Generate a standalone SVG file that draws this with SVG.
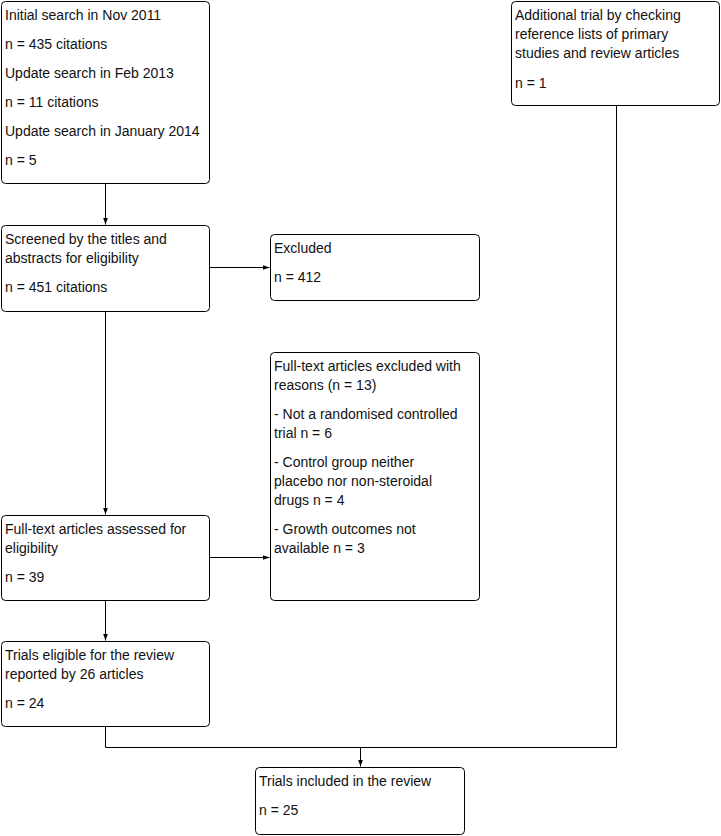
<svg xmlns="http://www.w3.org/2000/svg" width="721" height="836" viewBox="0 0 721 836">
<style>
.box{fill:#fff;stroke:#000;stroke-width:1}
.t{font-family:"Liberation Sans",Arial,sans-serif;font-size:14px;fill:#111}
.c{fill:none;stroke:#000;stroke-width:1}
</style>
<defs>
<marker id="ah" markerWidth="8" markerHeight="6" refX="7" refY="3" orient="auto" markerUnits="userSpaceOnUse">
<path d="M0,0.5 L7,3 L0,5.5 Z" fill="#000"/>
</marker>
</defs>
<rect width="721" height="836" fill="#fff"/>
<g id="connectors">
<path class="c" d="M105.5,183.5 V224.5" marker-end="url(#ah)"/>
<path class="c" d="M209.5,267.5 H269.5" marker-end="url(#ah)"/>
<path class="c" d="M105.5,311.5 V514.5" marker-end="url(#ah)"/>
<path class="c" d="M209.5,557.5 H269.5" marker-end="url(#ah)"/>
<path class="c" d="M105.5,600.5 V640.5" marker-end="url(#ah)"/>
<path class="c" d="M105.5,726.5 V747.5 H616.5 V105.5"/>
<path class="c" d="M360.5,747.5 V766.5" marker-end="url(#ah)"/>
</g>
<g id="n1">
<rect class="box" x="1.5" y="1.5" width="208" height="182" rx="4"/>
<text class="t" x="5" y="20">Initial search in Nov 2011</text>
<text class="t" x="5" y="49">n = 435 citations</text>
<text class="t" x="5" y="78">Update search in Feb 2013</text>
<text class="t" x="5" y="107">n = 11 citations</text>
<text class="t" x="5" y="136">Update search in January 2014</text>
<text class="t" x="5" y="165">n = 5</text>
</g>
<g id="n2">
<rect class="box" x="511.5" y="1.5" width="208" height="104" rx="4"/>
<text class="t" x="515" y="20">Additional trial by checking</text>
<text class="t" x="515" y="39">reference lists of primary</text>
<text class="t" x="515" y="58">studies and review articles</text>
<text class="t" x="515" y="88">n = 1</text>
</g>
<g id="n3">
<rect class="box" x="1.5" y="225.5" width="208" height="86" rx="4"/>
<text class="t" x="5" y="244">Screened by the titles and</text>
<text class="t" x="5" y="263">abstracts for eligibility</text>
<text class="t" x="5" y="292">n = 451 citations</text>
</g>
<g id="n4">
<rect class="box" x="270.5" y="234.5" width="209" height="66" rx="4"/>
<text class="t" x="274" y="253">Excluded</text>
<text class="t" x="274" y="282">n = 412</text>
</g>
<g id="n5">
<rect class="box" x="270.5" y="352.5" width="209" height="248" rx="4"/>
<text class="t" x="274" y="371">Full-text articles excluded with</text>
<text class="t" x="274" y="390">reasons (n = 13)</text>
<text class="t" x="274" y="419">- Not a randomised controlled</text>
<text class="t" x="274" y="438">trial n = 6</text>
<text class="t" x="274" y="467">- Control group neither</text>
<text class="t" x="274" y="486">placebo nor non-steroidal</text>
<text class="t" x="274" y="505">drugs n = 4</text>
<text class="t" x="274" y="534">- Growth outcomes not</text>
<text class="t" x="274" y="553">available n = 3</text>
</g>
<g id="n6">
<rect class="box" x="1.5" y="515.5" width="208" height="85" rx="4"/>
<text class="t" x="5" y="534">Full-text articles assessed for</text>
<text class="t" x="5" y="553">eligibility</text>
<text class="t" x="5" y="582">n = 39</text>
</g>
<g id="n7">
<rect class="box" x="1.5" y="641.5" width="208" height="85" rx="4"/>
<text class="t" x="5" y="660">Trials eligible for the review</text>
<text class="t" x="5" y="679">reported by 26 articles</text>
<text class="t" x="5" y="708">n = 24</text>
</g>
<g id="n8">
<rect class="box" x="255.5" y="767.5" width="209" height="67" rx="4"/>
<text class="t" x="259" y="786">Trials included in the review</text>
<text class="t" x="259" y="815">n = 25</text>
</g>
</svg>
